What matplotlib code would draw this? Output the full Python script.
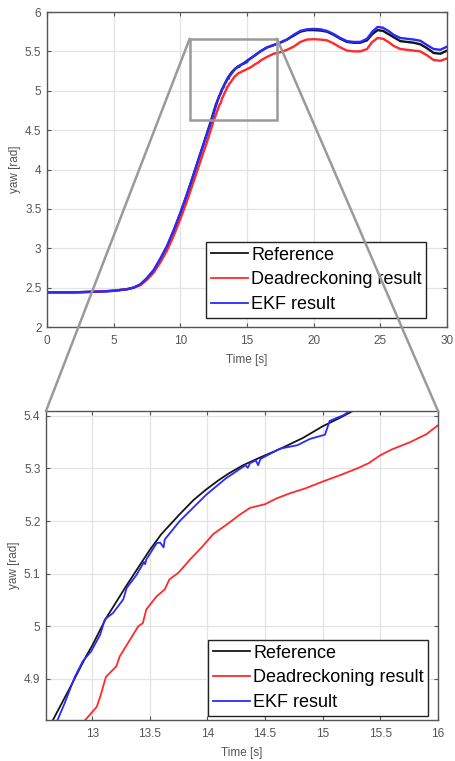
import matplotlib
matplotlib.use("Agg")
import matplotlib.pyplot as plt
from matplotlib.patches import Rectangle, ConnectionPatch

# ---------------- data ----------------
ref_t = [0, 1, 2, 3, 4, 5, 5.5, 6, 6.5, 7, 7.5, 8, 8.5, 9, 9.5, 10, 10.5, 11, 11.5, 12, 12.3,
         12.66, 12.8, 12.95, 13.0, 13.12, 13.3, 13.44, 13.5, 13.6, 13.76, 13.88, 13.99, 14.1,
         14.19, 14.31, 14.45, 14.63, 14.83, 15.0, 15.14, 15.27, 15.6, 16.0, 16.5, 17, 17.5,
         18, 18.5, 19, 19.5, 20, 20.5, 21, 21.5, 22, 22.5, 23, 23.5, 24, 24.4, 24.8, 25.2, 25.6,
         26, 26.5, 27, 27.5, 28, 28.5, 29, 29.5, 30]
ref_v = [2.44, 2.44, 2.44, 2.445, 2.45, 2.46, 2.47, 2.48, 2.5, 2.54, 2.62, 2.72, 2.86, 3.02, 3.22,
         3.44, 3.68, 3.94, 4.2, 4.46, 4.62,
         4.822, 4.88, 4.944, 4.963, 5.015, 5.078, 5.125, 5.145, 5.175, 5.213, 5.24, 5.26, 5.278,
         5.291, 5.306, 5.32, 5.337, 5.358, 5.38, 5.395, 5.41, 5.45, 5.50, 5.55, 5.58, 5.61,
         5.65, 5.70, 5.75, 5.77, 5.77, 5.765, 5.75, 5.71, 5.66, 5.62, 5.61, 5.61, 5.64, 5.72, 5.77,
         5.76, 5.72, 5.68, 5.63, 5.62, 5.61, 5.59, 5.54, 5.48, 5.47, 5.51]

dr_t = [0, 1, 2, 3, 4, 5, 5.5, 6, 6.5, 7, 7.5, 8, 8.5, 9, 9.5, 10, 10.5, 11, 11.5, 12, 12.5,
        12.94, 13.04, 13.07, 13.12, 13.21, 13.24, 13.33, 13.4, 13.44, 13.47, 13.56, 13.63, 13.67,
        13.75, 13.85, 13.95, 14.05, 14.19, 14.28, 14.37, 14.5, 14.6, 14.72, 14.85, 15.0, 15.15,
        15.3, 15.4, 15.5, 15.6, 15.76, 15.9, 16.0, 16.5, 17, 17.5, 18,
        18.5, 19, 19.5, 20, 20.5, 21, 21.5, 22, 22.5, 23, 23.5, 24, 24.4, 24.8, 25.2, 25.6, 26,
        26.5, 27, 27.5, 28, 28.5, 29, 29.5, 30]
dr_v = [2.44, 2.44, 2.44, 2.445, 2.45, 2.46, 2.47, 2.48, 2.5, 2.53, 2.6, 2.69, 2.82, 2.97, 3.16,
        3.37, 3.6, 3.85, 4.1, 4.35, 4.62,
        4.822, 4.847, 4.866, 4.904, 4.924, 4.943, 4.975, 5.0, 5.006, 5.032, 5.057, 5.07, 5.089,
        5.102, 5.127, 5.15, 5.175, 5.197, 5.212, 5.225, 5.232, 5.243, 5.253, 5.262, 5.275, 5.287,
        5.3, 5.31, 5.325, 5.336, 5.35, 5.365, 5.382, 5.43, 5.47, 5.49, 5.52,
        5.56, 5.62, 5.65, 5.655, 5.65, 5.64, 5.6, 5.55, 5.51, 5.5, 5.5, 5.53, 5.62, 5.67, 5.66,
        5.62, 5.57, 5.53, 5.52, 5.51, 5.5, 5.45, 5.39, 5.38, 5.41]

ekf_t = [0, 1, 2, 3, 4, 5, 5.5, 6, 6.5, 7, 7.5, 8, 8.5, 9, 9.5, 10, 10.5, 11, 11.5, 12, 12.3,
         12.7, 12.76, 12.85, 12.92, 12.99, 13.07, 13.11, 13.18, 13.27, 13.3, 13.38, 13.45, 13.46,
         13.47, 13.56, 13.59, 13.62, 13.63, 13.76, 13.99, 14.16, 14.31, 14.33, 14.35, 14.37,
         14.42, 14.44, 14.46, 14.63, 14.78, 14.89, 15.02, 15.06, 15.1, 15.18, 15.24,
         15.6, 16, 16.5, 17, 17.5, 18, 18.5, 19, 19.5, 20, 20.5, 21,
         21.5, 22, 22.5, 23, 23.5, 24, 24.4, 24.8, 25.2, 25.6, 26, 26.5, 27, 27.5, 28, 28.5, 29,
         29.5, 30]
ekf_v = [2.44, 2.44, 2.44, 2.445, 2.45, 2.46, 2.47, 2.48, 2.5, 2.54, 2.62, 2.72, 2.87, 3.03,
         3.23, 3.45, 3.69, 3.94, 4.2, 4.45, 4.60,
         4.822, 4.853, 4.904, 4.934, 4.952, 4.984, 5.013, 5.025, 5.051, 5.073, 5.096, 5.122, 5.118,
         5.127, 5.158, 5.159, 5.15, 5.165, 5.2, 5.25, 5.281, 5.303, 5.306, 5.301, 5.31,
         5.315, 5.306, 5.318, 5.3375, 5.344, 5.356, 5.364, 5.39, 5.394, 5.401, 5.41,
         5.45, 5.5, 5.55, 5.58, 5.615, 5.65, 5.71, 5.76, 5.78, 5.785, 5.78, 5.76,
         5.72, 5.67, 5.63, 5.62, 5.62, 5.66, 5.75, 5.81, 5.80, 5.76, 5.71, 5.67, 5.66,
         5.65, 5.635, 5.58, 5.53, 5.52, 5.56]

labels = ["Reference", "Deadreckoning result", "EKF result"]
colors = ["#151515", "#ff2a2a", "#2a2aff"]

top_xticks = [0, 5, 10, 15, 20, 25, 30]
top_yticks = [2, 2.5, 3, 3.5, 4, 4.5, 5, 5.5, 6]
bot_xticks = [13, 13.5, 14, 14.5, 15, 15.5, 16]
bot_yticks = [4.9, 5, 5.1, 5.2, 5.3, 5.4]

zoom_box = (10.7, 4.63, 17.25, 5.66)  # x0, y0, x1, y1 in top axes data units

# ---------------- figure ----------------
plt.rcParams['font.family'] = ['Liberation Sans', 'DejaVu Sans']
W, H = 455, 761
fig = plt.figure(figsize=(W / 100, H / 100), dpi=100)

ax1 = fig.add_axes([47 / W, 1 - 327 / H, 400 / W, 315 / H])
ax2 = fig.add_axes([46 / W, 1 - 720 / H, 392 / W, 309 / H])

series = [(ref_t, ref_v), (dr_t, dr_v), (ekf_t, ekf_v)]

def style(ax, xt, yt, xlim, ylim):
    ax.set_xlim(*xlim)
    ax.set_ylim(*ylim)
    ax.set_xticks(xt)
    ax.set_yticks(yt)
    ax.set_xticklabels([f"{v:g}" for v in xt])
    ax.set_yticklabels([f"{v:g}" for v in yt])
    ax.grid(True, color="#e3e3e3", lw=0.9)
    ax.set_axisbelow(True)
    ax.tick_params(direction="in", top=True, right=True, length=3, width=0.8,
                   labelsize=8.5, colors="#555555", labelcolor="#555555", pad=4)
    ax.tick_params(axis="x", pad=6)
    for s in ax.spines.values():
        s.set_color("#555555")
        s.set_linewidth(1.0)
    ax.set_xlabel("Time [s]", fontsize=8.5, color="#555555", labelpad=5)
    ax.set_ylabel("yaw [rad]", fontsize=8.5, color="#555555", labelpad=3)

for (t, v), c, lab in zip(series, colors, labels):
    ax1.plot(t, v, color=c, lw=1.7, label=lab)
    ax2.plot(t, v, color=c, lw=1.3, label=lab)

style(ax1, top_xticks, top_yticks, (0, 30), (2, 6))
style(ax2, bot_xticks, bot_yticks, (12.6, 16), (4.822, 5.409))

legkw = dict(loc="upper left", fontsize=13, frameon=True, fancybox=False,
             edgecolor="#222222", framealpha=1, borderpad=0.25, labelspacing=0.44,
             handlelength=2.1, handletextpad=0.15, borderaxespad=0,
             bbox_transform=fig.transFigure)
l1 = ax1.legend(bbox_to_anchor=(206 / W, 1 - 242 / H), **legkw)
l2 = ax2.legend(bbox_to_anchor=(208 / W, 1 - 640 / H), **legkw)
for l in (l1, l2):
    l.get_frame().set_linewidth(1.0)
    for h in l.get_lines():
        h.set_linewidth(1.3)

x0, y0, x1, y1 = zoom_box
ax1.add_patch(Rectangle((x0, y0), x1 - x0, y1 - y0, fill=False, ec="#9a9a9a", lw=1.8, zorder=5))
for (xa, xb) in [(x0, 0), (x1, 1)]:
    cp = ConnectionPatch(xyA=(xa, y1), coordsA=ax1.transData, xyB=(xb, 1), coordsB=ax2.transAxes,
                         color="#9a9a9a", lw=1.8, zorder=10)
    fig.add_artist(cp)

fig.savefig("out.png", dpi=100)
